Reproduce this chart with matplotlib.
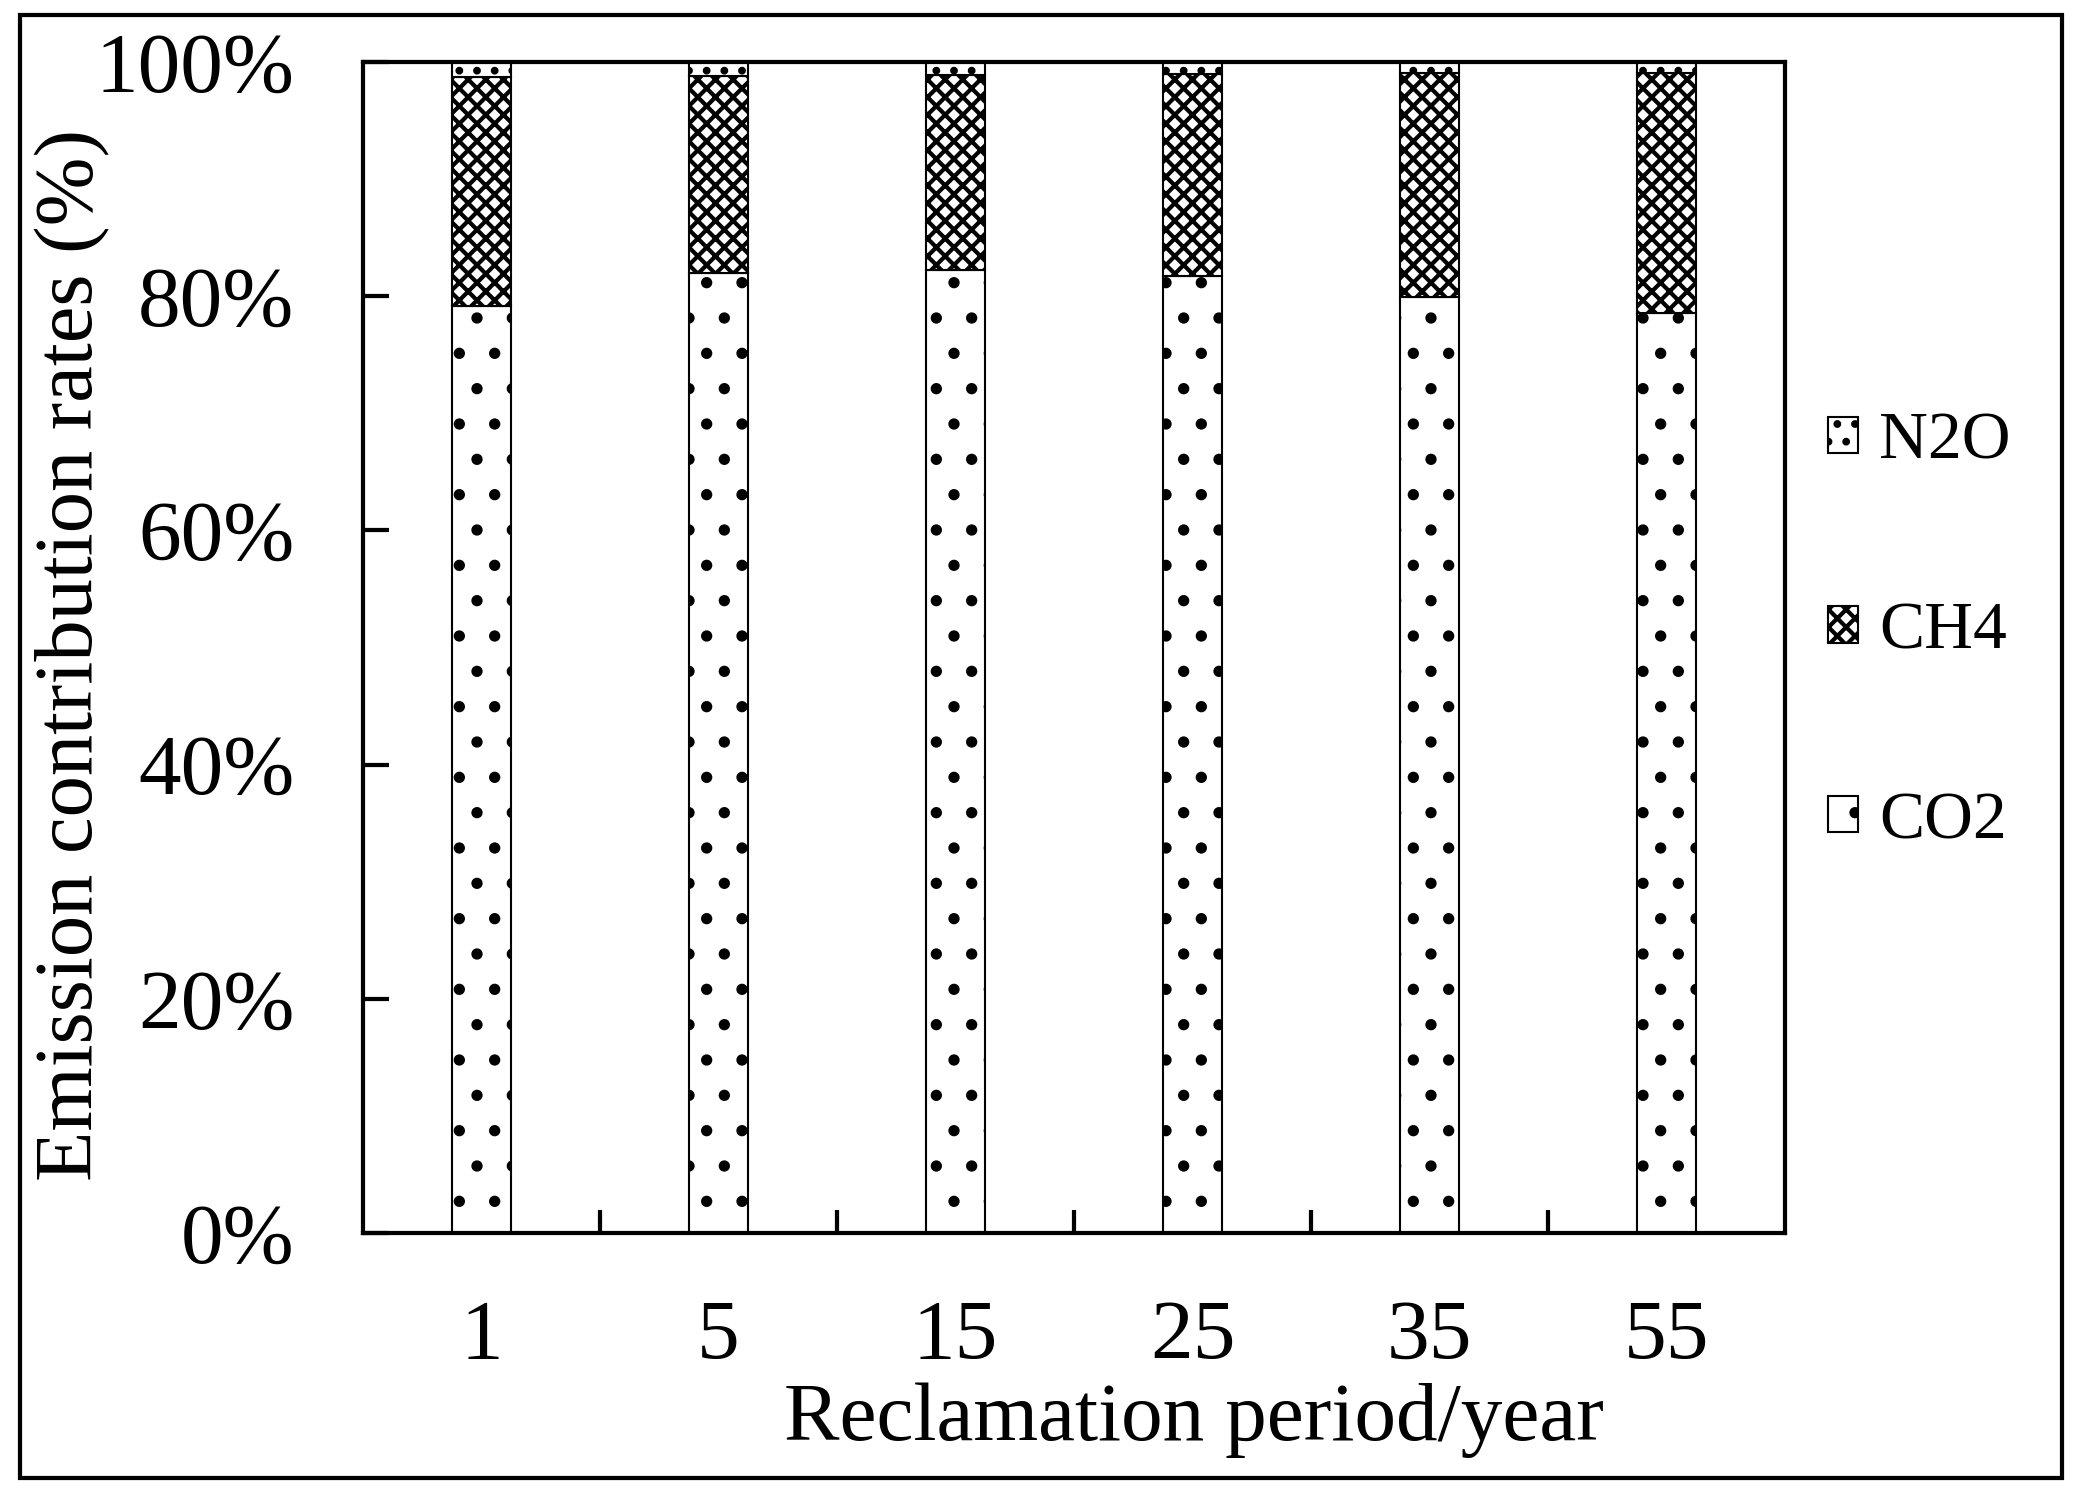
import matplotlib
matplotlib.use("Agg")
import matplotlib.pyplot as plt
from matplotlib.patches import Rectangle
from matplotlib.ticker import PercentFormatter, FixedLocator
import numpy as np

categories = ["1", "5", "15", "25", "35", "55"]
co2 = [79.2, 82.0, 82.2, 81.7, 79.9, 78.6]
ch4 = [19.5, 16.8, 16.7, 17.3, 19.2, 20.5]
n2o = [1.3, 1.2, 1.1, 1.0, 0.9, 0.9]

DPI = 212
W, H = 2073, 1495


def pt(px):
    return px * 72.0 / DPI


plt.rcParams['font.family'] = ['Liberation Serif', 'DejaVu Serif']
plt.rcParams['hatch.linewidth'] = pt(4.2)
plt.rcParams['hatch.color'] = 'black'

fig = plt.figure(figsize=(W / DPI, H / DPI), dpi=DPI)
ax = fig.add_axes([363 / W, 1 - 1233 / H, (1785 - 363) / W, (1233 - 62) / H])

x = np.arange(len(categories))
w = 0.25
lw_bar = pt(2.1)
b1 = ax.bar(x, co2, w, color='white', edgecolor='black', linewidth=lw_bar, hatch='.', label='CO2')
b2 = ax.bar(x, ch4, w, bottom=co2, color='white', edgecolor='black', linewidth=lw_bar, hatch='xxxx', label='CH4')
bot3 = [a + b for a, b in zip(co2, ch4)]
b3 = ax.bar(x, n2o, w, bottom=bot3, color='white', edgecolor='black', linewidth=lw_bar, hatch='..', label='N2O')

ax.set_xlim(-0.5, len(categories) - 0.5)
ax.set_ylim(0, 100)
ax.set_yticks([0, 20, 40, 60, 80, 100])
ax.yaxis.set_major_formatter(PercentFormatter(decimals=0))
ax.set_xticks(x)
ax.set_xticklabels(categories)
ax.xaxis.set_minor_locator(FixedLocator(np.arange(0.5, len(categories) - 1, 1.0)))

for s in ax.spines.values():
    s.set_linewidth(pt(4.2))

ax.tick_params(axis='y', direction='in', length=pt(26), width=pt(4.2), labelsize=pt(85.4), pad=pt(68.7))
ax.tick_params(axis='x', which='major', length=0, labelsize=pt(85.4), pad=pt(66.7))
ax.tick_params(axis='x', which='minor', direction='in', length=pt(23), width=pt(4.2))

fig.text(73 / W, 1 - 655 / H, 'Emission contribution rates (%)', rotation=90,
         ha='center', va='center', fontsize=pt(82.5))
fig.text(1194 / W, 1 - 1420 / H, 'Reclamation period/year',
         ha='center', va='center', fontsize=pt(83.3))

handles = [b3, b2, b1]
ax.legend(handles, ['N2O', 'CH4', 'CO2'], loc='center left',
          bbox_to_anchor=(1828 / W, 1 - 632 / H), bbox_transform=fig.transFigure,
          frameon=False, fontsize=pt(67.7), handlelength=0.45, handleheight=0.45,
          handletextpad=0.3, labelspacing=1.9, borderpad=0, borderaxespad=0)

fig.patches.append(Rectangle((20 / W, 1 - 1478 / H), (2062 - 20) / W, (1478 - 15) / H,
                             transform=fig.transFigure, fill=False, linewidth=pt(4.2), edgecolor='black'))

fig.savefig('out.png', dpi=DPI)
